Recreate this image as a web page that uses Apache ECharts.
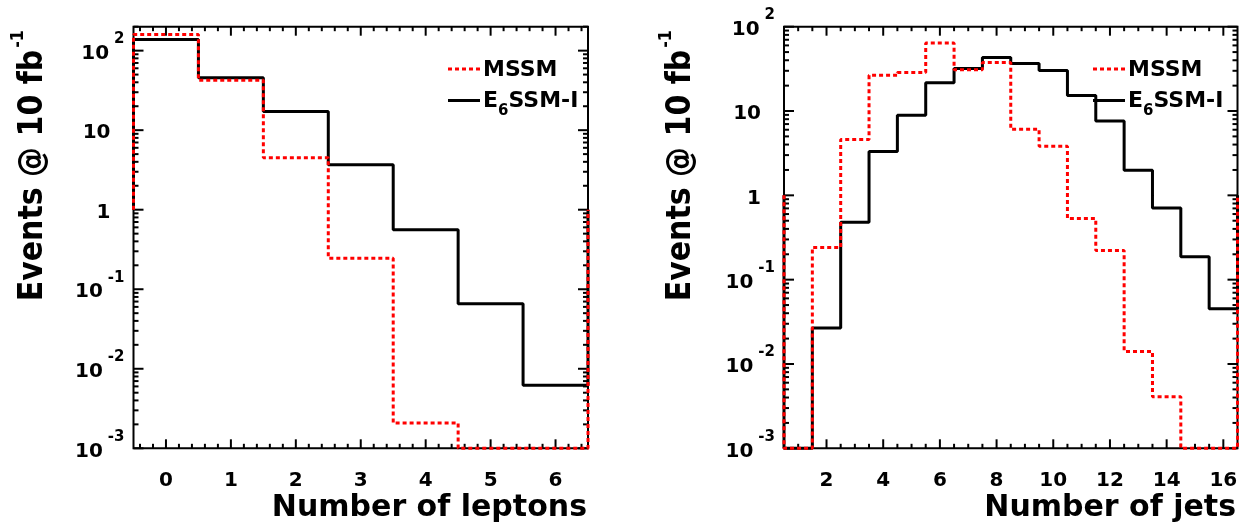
<!DOCTYPE html>
<html><head><meta charset="utf-8">
<script src="https://cdn.jsdelivr.net/npm/echarts@6/dist/echarts.min.js"></script>
<style>html,body{margin:0;padding:0;background:#fff}#c{width:1247px;height:530px}</style>
</head><body><div id="c"></div>
<script>
// ---- data ----
const leptonBins = [0, 1, 2, 3, 4, 5, 6];
const leptonMSSM = [160, 42.3, 4.5, 0.245, 0.00208, 0, 0];
const leptonE6 = [138, 45.7, 17.2, 3.68, 0.56, 0.0656, 0.0062];
const jetBins = [1, 2, 3, 4, 5, 6, 7, 8, 9, 10, 11, 12, 13, 14, 15, 16];
const jetMSSM = [0, 0.241, 4.6, 26.5, 28.6, 64, 30.8, 37.5, 6.07, 3.83, 0.531, 0.222, 0.0141, 0.00408, 0, 0];
const jetE6 = [0, 0.0268, 0.48, 3.3, 8.9, 21.6, 32, 43, 36.7, 30.3, 15.3, 7.63, 1.98, 0.706, 0.187, 0.0453];
const leptonXLabels = [0, 1, 2, 3, 4, 5, 6];
const jetXLabels = [2, 4, 6, 8, 10, 12, 14, 16];
const yDecades = [0.001, 0.01, 0.1, 1, 10, 100];
const leptonXRange = [-0.5, 6.5];
const jetXRange = [0.5, 16.5];
const leptonYRange = [0.001, 200];
const jetYRange = [0.001, 100];
const legendNames = ['MSSM', 'E6SSM-I'];

// ---- helpers ----
const FONT = 'DejaVu Sans';
function steps(bins, vals, floor) {
  const pts = [[bins[0] - 0.5, 1]];
  bins.forEach((b, i) => {
    const v = Math.max(vals[i], floor);
    pts.push([b - 0.5, v], [b + 0.5, v]);
  });
  pts.push([bins[bins.length - 1] + 0.5, 1]);
  return pts;
}
function minorSteps(lo, hi, step, skipEvery) {
  const out = [];
  const n = Math.round((hi - lo) / step);
  for (let i = 0; i <= n; i++) {
    const v = Math.round((lo + i * step) * 1000) / 1000;
    if (Math.abs(v / skipEvery - Math.round(v / skipEvery)) > 1e-6) out.push(v);
  }
  return out;
}
function logMinors(maxV) {
  const out = [];
  for (let d = -3; d <= 2; d++) for (let m = 2; m <= 9; m++) {
    const v = m * Math.pow(10, d);
    if (v <= maxV * 1.0001) out.push(v);
  }
  return out;
}
function yFmt(v) {
  const e = Math.round(Math.log10(v));
  if (e === 0) return '{b|1}{sp| }';
  if (e === 1) return '{b|10}{sp| }';
  return '{b|10}{e|' + e + '}';
}
const yRich = {
  b: {fontFamily: FONT, fontWeight: 'bold', fontSize: 20, color: '#000', padding: [6, 0, 0, 0]},
  e: {fontFamily: FONT, fontWeight: 'bold', fontSize: 15, color: '#000', padding: [0, 0, 23, 5]},
  sp: {width: 14, fontSize: 15}
};
function tickSeries(gi, orient, vals, len, xMin, yMin) {
  return {
    type: 'custom', xAxisIndex: gi, yAxisIndex: gi, silent: true, clip: false, z: 5,
    animation: false,
    data: vals.map(v => orient === 'x' ? [v, yMin] : [xMin, v]),
    renderItem: (params, api) => {
      const cs = params.coordSys;
      const p = api.coord([api.value(0), api.value(1)]);
      const st = {stroke: '#000', lineWidth: 2};
      if (orient === 'x') {
        const x = p[0], b = cs.y + cs.height, t = cs.y;
        return {type: 'group', children: [
          {type: 'line', shape: {x1: x, y1: b, x2: x, y2: b - len}, style: st},
          {type: 'line', shape: {x1: x, y1: t, x2: x, y2: t + len}, style: st}]};
      }
      const y = p[1], l = cs.x, r = cs.x + cs.width;
      return {type: 'group', children: [
        {type: 'line', shape: {x1: l, y1: y, x2: l + len, y2: y}, style: st},
        {type: 'line', shape: {x1: r, y1: y, x2: r - len, y2: y}, style: st}]};
    }
  };
}
function xAxisCfg(gi, range, labels) {
  return {type: 'value', gridIndex: gi, min: range[0], max: range[1],
    axisLine: {show: false}, axisTick: {show: false}, splitLine: {show: false},
    axisLabel: {customValues: labels, margin: 22, color: '#000', fontFamily: FONT,
      fontWeight: 'bold', fontSize: 20}};
}
function yAxisCfg(gi, range) {
  return {type: 'log', logBase: 10, gridIndex: gi, min: range[0], max: range[1],
    axisLine: {show: false}, axisTick: {show: false}, splitLine: {show: false}, minorTick: {show: false},
    axisLabel: {customValues: yDecades, margin: 9, formatter: yFmt, rich: yRich}};
}
const redStyle = {color: '#ff0000', width: 3, type: [4, 3]};
const blackStyle = {color: '#000000', width: 3, type: 'solid'};
function histSeries(gi, name, bins, vals, floor, style, z) {
  return {type: 'line', name: name, xAxisIndex: gi, yAxisIndex: gi, data: steps(bins, vals, floor),
    showSymbol: false, symbol: 'none', clip: false, silent: true, animation: false, z: z,
    lineStyle: style};
}

const titleFont = {fontFamily: FONT, fontWeight: 'bold', fill: '#000'};
function yTitle(cx) {
  return {type: 'text', x: cx, y: 30, rotation: Math.PI / 2, scaleY: 1.12, z: 100,
    style: {text: '{a|Events @ 10 fb}{s|-1}', align: 'right', verticalAlign: 'middle',
      rich: {a: {fontFamily: FONT, fontWeight: 'bold', fontSize: 30, fill: '#000'},
             s: {fontFamily: FONT, fontWeight: 'bold', fontSize: 16, fill: '#000', padding: [0, 0, 27, 2]}}}};
}
function xTitle(rx, text) {
  return {type: 'text', x: rx, y: 508, z: 100,
    style: Object.assign({text: text, fontSize: 30, align: 'right', verticalAlign: 'middle'}, titleFont)};
}
function legend(x0) {
  return [
    {type: 'line', z: 100, shape: {x1: x0, y1: 69, x2: x0 + 32, y2: 69},
      style: {stroke: '#ff0000', lineWidth: 3, lineDash: [4, 3]}},
    {type: 'text', x: x0 + 35, y: 70, z: 100,
      style: Object.assign({text: legendNames[0], fontSize: 22, align: 'left', verticalAlign: 'middle'}, titleFont)},
    {type: 'line', z: 100, shape: {x1: x0, y1: 100.5, x2: x0 + 32, y2: 100.5},
      style: {stroke: '#000', lineWidth: 3}},
    {type: 'text', x: x0 + 35, y: 101, z: 100,
      style: {text: '{t|E}{u|6}{t|SSM-I}', align: 'left', verticalAlign: 'middle',
        rich: {t: {fontFamily: FONT, fontWeight: 'bold', fontSize: 22, fill: '#000'},
               u: {fontFamily: FONT, fontWeight: 'bold', fontSize: 15, fill: '#000', padding: [20, 0, 0, 0]}}}}
  ];
}

const option = {
  backgroundColor: '#ffffff',
  animation: false,
  grid: [
    {left: 133.5, top: 26.7, width: 454.5, height: 421.6, show: true, borderColor: '#000', borderWidth: 2, backgroundColor: 'transparent'},
    {left: 784, top: 26.7, width: 453.5, height: 421.6, show: true, borderColor: '#000', borderWidth: 2, backgroundColor: 'transparent'}
  ],
  xAxis: [xAxisCfg(0, leptonXRange, leptonXLabels), xAxisCfg(1, jetXRange, jetXLabels)],
  yAxis: [yAxisCfg(0, leptonYRange), yAxisCfg(1, jetYRange)],
  series: [
    histSeries(0, legendNames[1], leptonBins, leptonE6, leptonYRange[0], blackStyle, 10),
    histSeries(0, legendNames[0], leptonBins, leptonMSSM, leptonYRange[0], redStyle, 11),
    histSeries(1, legendNames[1], jetBins, jetE6, jetYRange[0], blackStyle, 10),
    histSeries(1, legendNames[0], jetBins, jetMSSM, jetYRange[0], redStyle, 11),
    tickSeries(0, 'x', leptonXLabels, 9, leptonXRange[0], leptonYRange[0]),
    tickSeries(0, 'x', minorSteps(-0.4, 6.4, 0.2, 1), 4.5, leptonXRange[0], leptonYRange[0]),
    tickSeries(0, 'y', yDecades, 10, leptonXRange[0], leptonYRange[0]),
    tickSeries(0, 'y', logMinors(leptonYRange[1]), 5, leptonXRange[0], leptonYRange[0]),
    tickSeries(1, 'x', jetXLabels, 9, jetXRange[0], jetYRange[0]),
    tickSeries(1, 'x', minorSteps(1, 16, 0.5, 2), 4.5, jetXRange[0], jetYRange[0]),
    tickSeries(1, 'y', yDecades, 10, jetXRange[0], jetYRange[0]),
    tickSeries(1, 'y', logMinors(jetYRange[1]), 5, jetXRange[0], jetYRange[0])
  ],
  graphic: [yTitle(33), yTitle(681), xTitle(587, 'Number of leptons'), xTitle(1236, 'Number of jets')]
    .concat(legend(448)).concat(legend(1093))
};
const chart = echarts.init(document.getElementById('c'));
chart.setOption(option);
</script>
</body></html>
